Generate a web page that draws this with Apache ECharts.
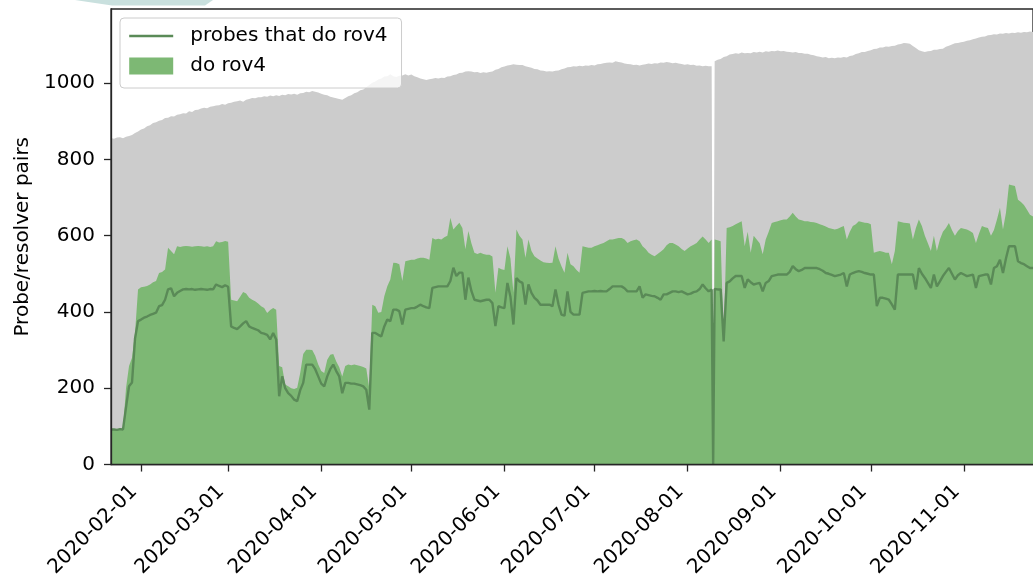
<!DOCTYPE html>
<html>
<head>
<meta charset="utf-8">
<style>
  html, body { margin: 0; padding: 0; background: #ffffff; }
  #chart { width: 1033px; height: 580px; }
</style>
<script src="https://cdn.jsdelivr.net/npm/echarts@6/dist/echarts.min.js"></script>
</head>
<body>
<div id="chart"></div>
<script>
// Daily series, first value on startDate, one value per day through endDate
const startDate = '2020-01-22';
const endDate = '2020-11-24';
// measurement outage: every series reads zero at this instant
const outageTimes = ['2020-08-09T12:00:00Z'];
const monthTicks = ['2020-02-01', '2020-03-01', '2020-04-01', '2020-05-01', '2020-06-01',
                    '2020-07-01', '2020-08-01', '2020-09-01', '2020-10-01', '2020-11-01'];
const yTicks = [0, 200, 400, 600, 800, 1000];

// all probe/resolver pairs
const totalPairs = [
  856, 854, 857, 858, 855, 859, 861, 864, 869, 873,
  878, 881, 887, 889, 895, 897, 901, 903, 908, 909,
  913, 912, 917, 918, 921, 920, 926, 924, 929, 930,
  933, 935, 934, 938, 939, 941, 942, 945, 943, 947,
  948, 951, 952, 954, 951, 956, 958, 961, 960, 963,
  963, 965, 964, 967, 965, 968, 966, 969, 968, 971,
  970, 972, 969, 973, 974, 977, 976, 979, 977, 975,
  972, 969, 968, 964, 962, 960, 958, 956, 961, 965,
  968, 973, 976, 981, 983, 989, 995, 1001, 1004, 1009,
  1012, 1017, 1018, 1023, 1018, 1016, 1019, 1020, 1023, 1020,
  1022, 1018, 1015, 1012, 1010, 1008, 1010, 1011, 1013, 1012,
  1014, 1013, 1017, 1018, 1021, 1022, 1026, 1027, 1030, 1031,
  1030, 1028, 1029, 1026, 1028, 1027, 1029, 1030, 1035, 1037,
  1041, 1043, 1046, 1047, 1049, 1048, 1047, 1047, 1044, 1042,
  1040, 1037, 1036, 1033, 1032, 1030, 1031, 1030, 1032, 1033,
  1036, 1038, 1041, 1042, 1044, 1043, 1045, 1044, 1046, 1045,
  1047, 1046, 1049, 1050, 1052, 1053, 1054, 1053, 1057, 1055,
  1054, 1051, 1050, 1049, 1047, 1048, 1046, 1048, 1049, 1051,
  1050, 1052, 1051, 1054, 1053, 1055, 1054, 1052, 1053, 1051,
  1050, 1048, 1049, 1047, 1048, 1045, 1046, 1044, 1045, 1044,
  1044, 1057, 1061, 1063, 1068, 1070, 1075, 1076, 1078, 1077,
  1080, 1078, 1079, 1078, 1081, 1080, 1082, 1080, 1083, 1082,
  1084, 1083, 1085, 1083, 1084, 1082, 1081, 1080, 1081, 1079,
  1079, 1077, 1077, 1074, 1073, 1070, 1069, 1067, 1068, 1065,
  1066, 1065, 1067, 1066, 1068, 1067, 1071, 1072, 1076, 1078,
  1081, 1081, 1084, 1086, 1089, 1090, 1093, 1093, 1096, 1095,
  1097, 1098, 1101, 1102, 1105, 1104, 1103, 1097, 1092, 1086,
  1083, 1081, 1083, 1084, 1087, 1087, 1089, 1090, 1095, 1098,
  1101, 1104, 1105, 1107, 1108, 1111, 1112, 1115, 1117, 1119,
  1121, 1122, 1125, 1126, 1128, 1127, 1130, 1129, 1131, 1130,
  1132, 1131, 1133, 1132, 1134, 1133, 1135, 1134
];

// pairs that do rov4
const rov4Pairs = [
  92, 92, 91, 93, 92, 200, 258, 280, 345, 459,
  465, 466, 468, 472, 478, 481, 502, 505, 511, 568,
  560, 551, 572, 570, 572, 573, 572, 571, 572, 573,
  572, 571, 572, 570, 572, 585, 582, 583, 586, 584,
  432, 430, 428, 440, 452, 448, 437, 432, 428, 422,
  415, 410, 397, 405, 410, 406, 258, 255, 210, 205,
  200, 198, 201, 240, 290, 301, 301, 300, 285, 262,
  245, 240, 275, 288, 290, 270, 255, 231, 258, 262,
  260, 262, 260, 258, 256, 252, 200, 419, 415, 398,
  400, 441, 467, 485, 529, 528, 525, 481, 533, 535,
  537, 537, 540, 542, 542, 540, 537, 594, 590, 592,
  590, 596, 600, 647, 616, 625, 634, 620, 564, 612,
  580, 555, 552, 555, 552, 550, 550, 545, 450, 516,
  512, 510, 572, 540, 450, 616, 600, 590, 542, 590,
  560, 546, 540, 535, 530, 529, 528, 529, 572, 540,
  520, 503, 555, 525, 520, 510, 503, 572, 570, 568,
  568, 572, 575, 578, 581, 585, 590, 590, 592, 594,
  594, 590, 581, 585, 588, 590, 585, 572, 565, 555,
  550, 546, 552, 558, 564, 575, 581, 581, 577, 572,
  565, 560, 566, 572, 576, 581, 590, 598, 590, 581,
  590, 590, 588, 585, 330, 620, 622, 625, 630, 634,
  638, 572, 610, 555, 600, 590, 580, 551, 590, 610,
  633, 636, 638, 640, 642, 642, 650, 660, 650, 642,
  640, 638, 638, 636, 635, 633, 630, 627, 624, 620,
  618, 616, 618, 622, 625, 590, 610, 625, 630, 638,
  636, 634, 633, 630, 555, 558, 560, 558, 555, 555,
  525, 560, 638, 636, 634, 633, 632, 590, 620, 642,
  625, 600, 580, 560, 600, 560, 590, 610, 620, 633,
  615, 600, 612, 620, 618, 616, 612, 607, 581, 605,
  625, 622, 620, 600, 615, 642, 673, 616, 660, 734,
  732, 730, 694, 688, 680, 668, 655, 650
];

// probes that do rov4
const rov4Probes = [
  92, 92, 91, 93, 92, 150, 205, 215, 330, 376,
  380, 385, 388, 392, 395, 398, 415, 418, 432, 459,
  462, 441, 450, 455, 459, 460, 459, 460, 458, 459,
  460, 459, 458, 460, 459, 472, 468, 465, 470, 466,
  362, 358, 355, 362, 370, 376, 362, 358, 355, 352,
  345, 343, 340, 328, 345, 328, 179, 231, 200, 187,
  180, 170, 166, 195, 214, 262, 262, 262, 250, 231,
  212, 205, 231, 250, 262, 245, 231, 187, 214, 214,
  212, 212, 210, 208, 205, 196, 144, 345, 345, 340,
  336, 362, 380, 376, 406, 406, 402, 367, 406, 408,
  410, 410, 414, 419, 415, 412, 410, 463, 465, 467,
  467, 467, 467, 481, 516, 494, 503, 503, 432, 490,
  455, 432, 430, 428, 430, 432, 432, 423, 363, 415,
  412, 410, 476, 440, 367, 489, 480, 476, 419, 472,
  450, 437, 430, 419, 419, 419, 419, 415, 459, 420,
  393, 390, 454, 400, 393, 393, 393, 450, 452, 454,
  454, 455, 454, 455, 454, 454, 460, 467, 467, 467,
  467, 462, 454, 454, 454, 454, 467, 437, 446, 444,
  442, 441, 437, 432, 446, 446, 450, 454, 454, 452,
  454, 450, 446, 448, 452, 454, 460, 472, 462, 454,
  459, 460, 459, 459, 323, 476, 480, 488, 494, 494,
  494, 463, 485, 478, 472, 474, 476, 454, 476, 481,
  494, 496, 498, 498, 498, 498, 505, 520, 512, 507,
  510, 515, 515, 515, 515, 515, 512, 508, 502, 500,
  497, 494, 496, 498, 502, 467, 498, 502, 505, 507,
  505, 502, 500, 498, 498, 415, 437, 437, 435, 432,
  420, 406, 498, 498, 498, 498, 498, 498, 459, 515,
  500, 489, 476, 463, 498, 467, 480, 494, 505, 515,
  500, 485, 496, 502, 498, 494, 496, 498, 463, 494,
  496, 498, 498, 472, 515, 520, 537, 502, 540, 572,
  572, 572, 533, 528, 525, 520, 515, 515
];

const DAY = 86400000;
const t0 = Date.parse(startDate + 'T00:00:00Z');
const tEnd = Date.parse(endDate + 'T00:00:00Z');
const outages = outageTimes.map(s => Date.parse(s));

// pair each daily value with its timestamp, slotting in the outage readings
function toSeries(values) {
  const data = [];
  values.forEach((v, i) => {
    const t = t0 + i * DAY;
    data.push([t, v]);
    outages.forEach(o => { if (o > t && o < t + DAY) data.push([o, 0]); });
  });
  return data;
}

function fmtDate(ts) {
  const d = new Date(ts);
  return d.getUTCFullYear() + '-' +
    String(d.getUTCMonth() + 1).padStart(2, '0') + '-' +
    String(d.getUTCDate()).padStart(2, '0');
}

const tickTimes = monthTicks.map(s => Date.parse(s + 'T00:00:00Z'));

const FONT = 'DejaVu Sans';
const INK = '#262626';
const GRAY = '#cccccc';
const FILL = '#7db874';
const LINE = '#5a8a57';

const chart = echarts.init(document.getElementById('chart'), null, { renderer: 'canvas' });

chart.setOption({
  animation: false,
  backgroundColor: '#ffffff',
  textStyle: { fontFamily: FONT },
  graphic: [{
    type: 'polygon',
    silent: true,
    shape: { points: [[75, 0], [95, 3], [112, 5.5], [205, 5.5], [213, 0]] },
    style: { fill: '#c9e0de' }
  }],
  grid: {
    left: 111, top: 9, width: 925, height: 456,
    show: true, borderColor: INK, borderWidth: 1.3, backgroundColor: 'transparent'
  },
  legend: {
    left: 120, top: 18,
    orient: 'vertical',
    padding: [8, 14, 12, 8],
    itemGap: 10,
    itemWidth: 44,
    itemHeight: 17,
    backgroundColor: 'rgba(255,255,255,0.8)',
    borderColor: '#cccccc',
    borderWidth: 1,
    borderRadius: 4,
    selectedMode: false,
    textStyle: { fontSize: 20, color: '#000000', fontFamily: FONT, padding: [0, 0, 0, 12] },
    data: [
      {
        name: 'probes that do rov4',
        itemStyle: { color: 'rgba(0,0,0,0)', borderWidth: 0, opacity: 0 },
        lineStyle: { color: LINE, width: 2.4 }
      },
      { name: 'do rov4', icon: 'rect', itemStyle: { color: FILL } }
    ]
  },
  xAxis: {
    // timestamps (ms, UTC) on a linear axis so the month ticks can be placed exactly
    type: 'value',
    min: t0,
    max: tEnd,
    z: 10,
    axisLine: { show: true, lineStyle: { color: INK, width: 1.3 } },
    axisTick: { show: true, customValues: tickTimes, length: 7, lineStyle: { color: INK, width: 1.3 } },
    axisLabel: {
      customValues: tickTimes,
      rotate: 45,
      formatter: v => fmtDate(v),
      fontSize: 20,
      color: '#000000',
      fontFamily: FONT,
      margin: 17,
      padding: [0, 10, 0, 0]
    },
    splitLine: { show: false }
  },
  yAxis: {
    type: 'value',
    min: 0,
    max: 1194,
    z: 10,
    name: 'Probe/resolver pairs',
    nameLocation: 'middle',
    nameGap: 71,
    nameRotate: 90,
    nameTextStyle: { fontSize: 20, color: '#000000', fontFamily: FONT },
    axisLine: { show: true, lineStyle: { color: INK, width: 1.3 } },
    axisTick: { show: true, customValues: yTicks, length: 7, lineStyle: { color: INK, width: 1.3 } },
    axisLabel: {
      customValues: yTicks, fontSize: 20, color: '#000000', fontFamily: FONT, margin: 16,
      formatter: v => String(v)
    },
    splitLine: { show: false }
  },
  series: [
    {
      name: 'all pairs',
      type: 'line',
      data: toSeries(totalPairs),
      symbol: 'none',
      silent: true,
      lineStyle: { width: 0, color: GRAY },
      itemStyle: { color: GRAY },
      areaStyle: { color: GRAY, opacity: 1 },
      z: 1
    },
    {
      name: 'do rov4',
      type: 'line',
      data: toSeries(rov4Pairs),
      symbol: 'none',
      silent: true,
      lineStyle: { width: 0, color: FILL },
      itemStyle: { color: FILL },
      areaStyle: { color: FILL, opacity: 1 },
      z: 2
    },
    {
      name: 'probes that do rov4',
      type: 'line',
      data: toSeries(rov4Probes),
      symbol: 'none',
      silent: true,
      lineStyle: { width: 2.4, color: LINE },
      itemStyle: { color: LINE },
      z: 3
    }
  ]
});
</script>
</body>
</html>
